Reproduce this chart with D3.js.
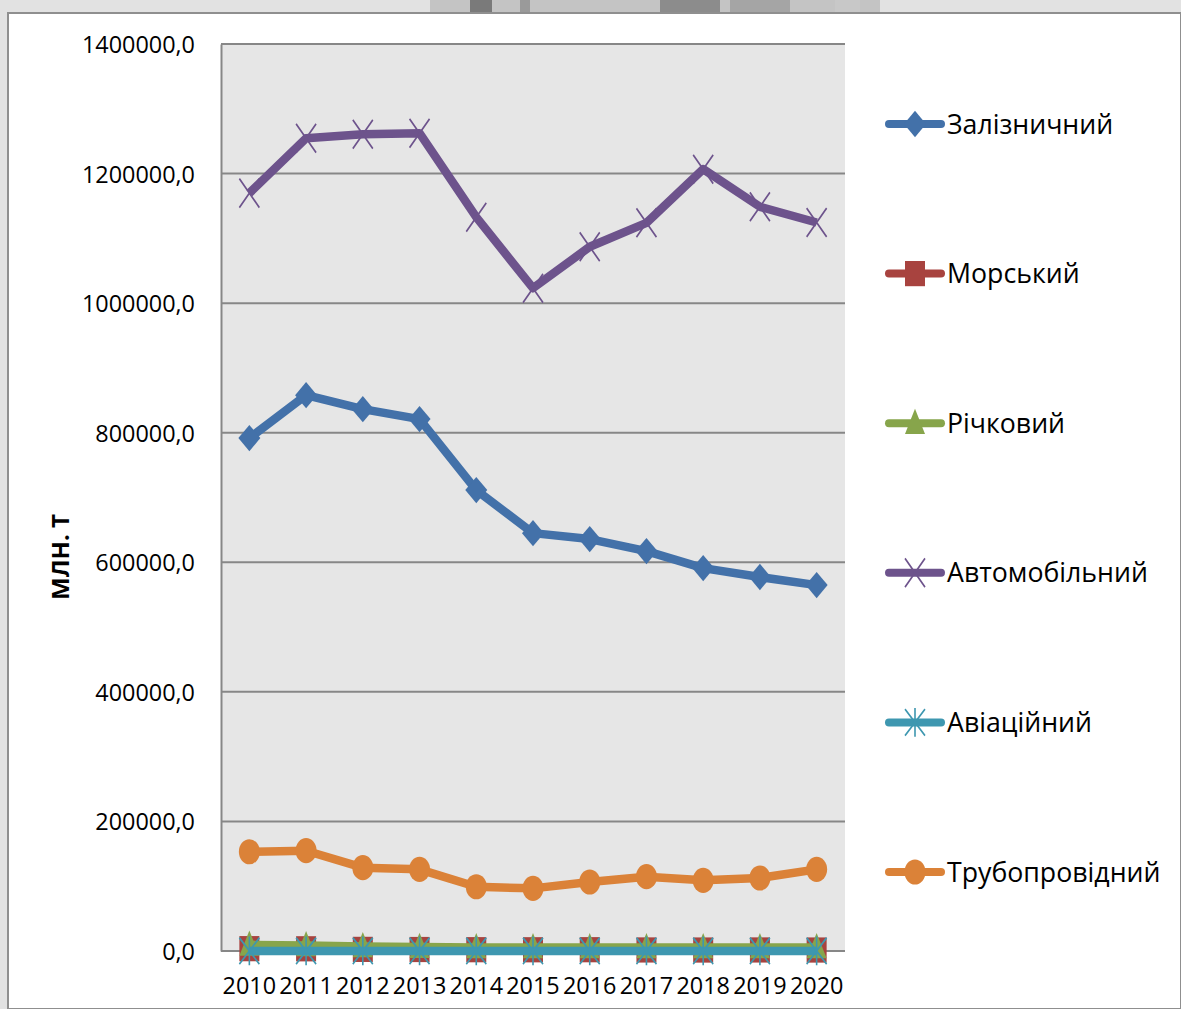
<!DOCTYPE html>
<html>
<head>
<meta charset="utf-8">
<script src="https://cdn.jsdelivr.net/npm/d3@7"></script>
<style>
  html, body { margin: 0; padding: 0; background: #d9d9d9; }
  svg { display: block; }
</style>
</head>
<body>
<svg id="chart" width="1181" height="1009"></svg>
<script>
// Freight volumes by mode of transport, 2010–2020
const years = ["2010","2011","2012","2013","2014","2015","2016","2017","2018","2019","2020"];
const rail     = [791700, 858000, 836400, 821000, 711400, 645000, 635800, 617300, 591000, 577200, 564800];
const sea      = [3600, 3400, 2500, 2300, 2000, 1900, 2000, 1600, 1500, 1600, 1500];
const river    = [9500, 8500, 7000, 6000, 5500, 5500, 5500, 5500, 5500, 5500, 5500];
const road     = [1169800, 1254600, 1260800, 1262300, 1132700, 1023100, 1087000, 1124000, 1206800, 1148700, 1124500];
const air      = [100, 100, 100, 100, 100, 100, 100, 100, 100, 100, 100];
const pipeline = [153200, 154800, 128600, 126000, 99200, 96700, 106500, 114700, 109100, 112700, 126000];
const yTicks   = [0, 200000, 400000, 600000, 800000, 1000000, 1200000, 1400000];
const seriesNames = ["Залізничний", "Морський", "Річковий", "Автомобільний", "Авіаційний", "Трубопровідний"];
const yTitle = "МЛН. Т";

const seriesValues = [rail, sea, river, road, air, pipeline];
const colors = ["#4371a9", "#a8433f", "#87a54b", "#6d538c", "#3e97b0", "#db8238"];
const markers = ["diamond", "square", "triangle", "x", "star", "circle"];

const svg = d3.select("#chart");
const W = 1181, H = 1009;

// page backdrop with a few soft shapes along the top edge
const back = svg.append("g");
back.append("rect").attr("width", W).attr("height", H).attr("fill", "#e2e2e2");
back.append("rect").attr("x", 430).attr("y", 0).attr("width", 450).attr("height", 14).attr("fill", "#c4c4c4");
[[470, 22, "#7a7a7a"], [520, 10, "#9a9a9a"], [660, 60, "#8c8c8c"], [730, 60, "#a5a5a5"], [835, 25, "#c8c8c8"]]
  .forEach(([x, w, c]) => back.append("rect").attr("x", x).attr("y", 0).attr("width", w).attr("height", 14).attr("fill", c));

// white panel
svg.append("rect").attr("x", 8).attr("y", 13).attr("width", W - 8).attr("height", H - 13)
  .attr("fill", "#ffffff").attr("stroke", "#8f8f8f").attr("stroke-width", 2);

const plot = { left: 221, right: 845, top: 44, bottom: 951 };

const x = d3.scaleBand().domain(years).range([plot.left, plot.right]).padding(0);
const cx = d => x(d) + x.bandwidth() / 2;
const y = d3.scaleLinear().domain([0, 1400000]).range([plot.bottom, plot.top]);

// plot background
svg.append("rect").attr("x", plot.left).attr("y", plot.top)
  .attr("width", plot.right - plot.left).attr("height", plot.bottom - plot.top)
  .attr("fill", "#e6e6e6");

// horizontal gridlines
svg.append("g").selectAll("line").data(yTicks).join("line")
  .attr("x1", plot.left).attr("x2", plot.right)
  .attr("y1", d => y(d)).attr("y2", d => y(d))
  .attr("stroke", "#878787").attr("stroke-width", 2);

// y axis
const fmt = v => d3.format(".1f")(v).replace(".", ",");
const yAxis = svg.append("g").attr("transform", `translate(${plot.left},0)`)
  .call(d3.axisLeft(y).tickValues(yTicks).tickFormat(fmt).tickSize(0).tickPadding(26));
yAxis.select(".domain").attr("stroke", "#878787").attr("stroke-width", 2);
yAxis.selectAll("text").attr("font-family", "'Open Sans', sans-serif").attr("font-size", 23.4)
  .attr("fill", "#000").attr("dy", "0.36em");

// x axis
const xAxis = svg.append("g").attr("transform", `translate(0,${plot.bottom})`)
  .call(d3.axisBottom(x).tickSize(0).tickPadding(31));
xAxis.select(".domain").remove();
xAxis.selectAll("text").attr("font-family", "'Open Sans', sans-serif").attr("font-size", 23.4)
  .attr("fill", "#000").attr("dy", "0.5em");

// y title
svg.append("text").attr("transform", "translate(69,557) rotate(-90)")
  .attr("text-anchor", "middle").attr("font-family", "'Open Sans', sans-serif")
  .attr("font-weight", "bold").attr("font-size", 24).text(yTitle);

// marker drawing
function drawMarker(g, type, color) {
  const sy = 1.2;
  const m = g.append("g").attr("transform", `scale(1,${sy})`);
  if (type === "diamond") {
    m.append("path").attr("d", "M0,-11L11,0L0,11L-11,0Z").attr("fill", color);
  } else if (type === "square") {
    m.append("rect").attr("x", -10).attr("y", -10.5).attr("width", 20).attr("height", 21).attr("fill", color);
  } else if (type === "triangle") {
    m.append("path").attr("d", "M0,-12L10,9L-10,9Z").attr("fill", color);
  } else if (type === "x") {
    m.append("path").attr("d", "M-10,-12L10,12M10,-12L-10,12").attr("stroke", color).attr("stroke-width", 1.6).attr("fill", "none");
  } else if (type === "star") {
    m.append("path").attr("d", "M-10,-11L10,11M10,-11L-10,11M0,-12L0,12").attr("stroke", color).attr("stroke-width", 1.6).attr("fill", "none");
  } else if (type === "circle") {
    m.append("circle").attr("r", 10.5).attr("fill", color);
  }
}

// series lines and markers
const line = d3.line().x((d, i) => cx(years[i])).y(d => y(d));
seriesValues.forEach((vals, si) => {
  const g = svg.append("g");
  g.append("path").attr("d", line(vals)).attr("fill", "none")
    .attr("stroke", colors[si]).attr("stroke-width", 8.5).attr("stroke-linejoin", "round");
  vals.forEach((v, i) => {
    const mg = g.append("g").attr("transform", `translate(${cx(years[i])},${y(v)})`);
    drawMarker(mg, markers[si], colors[si]);
  });
});

// legend
const legendY = d3.scalePoint().domain(seriesNames).range([124, 872]);
const legend = svg.append("g");
seriesNames.forEach((name, si) => {
  const ly = legendY(name);
  const g = legend.append("g");
  g.append("line").attr("x1", 889).attr("x2", 941).attr("y1", ly).attr("y2", ly)
    .attr("stroke", colors[si]).attr("stroke-width", 8).attr("stroke-linecap", "round");
  const mg = g.append("g").attr("transform", `translate(915,${ly})`);
  drawMarker(mg, markers[si], colors[si]);
  g.append("text").attr("x", 947).attr("y", ly).attr("dy", "0.36em")
    .attr("font-family", "'Open Sans', sans-serif").attr("font-size", 26.7).attr("fill", "#000")
    .text(name);
});
</script>
</body>
</html>
